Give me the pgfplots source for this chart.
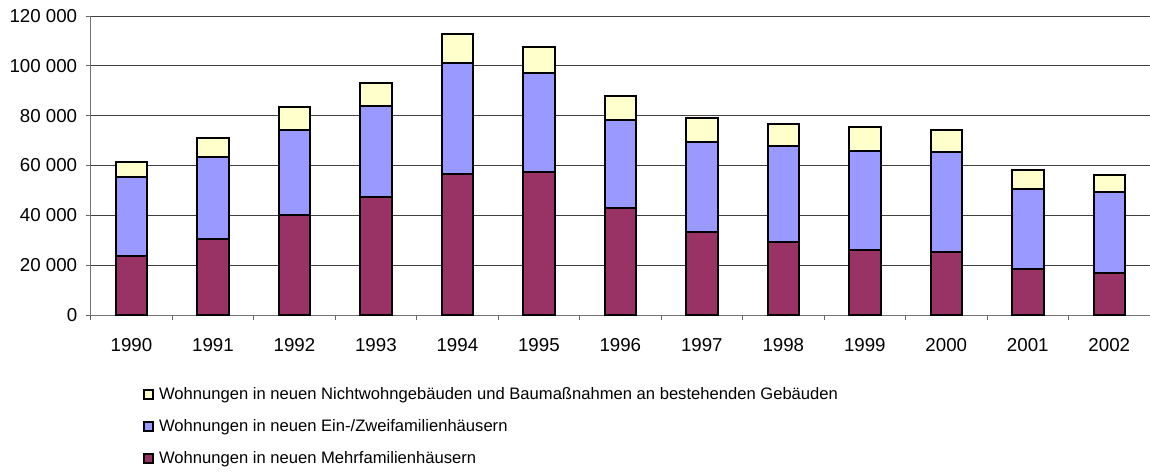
\documentclass[border=0pt]{standalone}
\usepackage{fontspec}
\setmainfont{Liberation Sans}
\usepackage{pgfplots}
\pgfplotsset{compat=1.18}
\usepackage{pgfplotstable}
\definecolor{mf}{HTML}{993366}
\definecolor{ez}{HTML}{9999FF}
\definecolor{nw}{HTML}{FFFFCC}
\pgfplotstableread{
x year mf ez nw
0 1990 23700 31700 6100
1 1991 30600 32900 7500
2 1992 40300 34000 9100
3 1993 47400 36300 9300
4 1994 56700 44600 11400
5 1995 57400 39800 10500
6 1996 43100 35200 9400
7 1997 33200 36100 9700
8 1998 29400 38500 8600
9 1999 26000 40000 9400
10 2000 25400 40000 8700
11 2001 18300 32400 7400
12 2002 16700 32700 6900
}\datatable
\begin{document}
\begin{tikzpicture}[x=1pt,y=1pt]
\path[use as bounding box] (0,0) rectangle (1150,471);
\begin{axis}[
  at={(90.7pt,156pt)}, anchor=south west,
  width=1059.3pt, height=299pt, scale only axis,
  xmin=-0.5, xmax=12.5, ymin=0, ymax=120000,
  enlargelimits=false,
  scaled y ticks=false,
  ybar stacked, bar width=31.5pt,
  legend image code/.code={\draw[#1,line width=1.8pt] (0pt,-4.5pt) rectangle (9pt,4.5pt); \path (12pt,0pt);},
  xtick={0,...,12},
  xticklabels={1990,1991,1992,1993,1994,1995,1996,1997,1998,1999,2000,2001,2002},
  minor xtick={-0.5,0.5,...,12.5},
  major x tick style={draw=none},
  minor x tick style={draw=black!60, line width=0.8pt},
  minor tick length=5pt, major tick length=5pt,
  ytick={0,20000,...,120000},
  yticklabels={0,20 000,40 000,60 000,80 000,100 000,120 000},
  ymajorgrids,
  major grid style={black!75, line width=0.8pt},
  axis x line*=bottom, axis y line*=left,
  axis line style={black!55, line width=1pt, -},
  y tick style={black!60, line width=0.8pt},
  tick align=outside,
  tick label style={font=\fontsize{18.7}{22}\selectfont},
  xticklabel style={yshift=-15pt},
  yticklabel style={xshift=-5pt},
  reverse legend,
  legend cell align=left,
  legend style={at={(0.0465,-0.227)}, anchor=north west, draw=none, fill=none,
    font=\fontsize{16.6}{20}\selectfont, row sep=12.5pt,
    nodes={inner sep=2pt, text height=12pt, text depth=3.5pt}},
]
\addplot[fill=mf, draw=black, line width=2pt] table[x=x,y=mf]{\datatable};
\addlegendentry{Wohnungen in neuen Mehrfamilienhäusern}
\addplot[fill=ez, draw=black, line width=2pt] table[x=x,y=ez]{\datatable};
\addlegendentry{Wohnungen in neuen Ein-/Zweifamilienhäusern}
\addplot[fill=nw, draw=black, line width=2pt] table[x=x,y=nw]{\datatable};
\addlegendentry{Wohnungen in neuen Nichtwohngebäuden und Baumaßnahmen an bestehenden Gebäuden}
\end{axis}
\end{tikzpicture}
\end{document}
